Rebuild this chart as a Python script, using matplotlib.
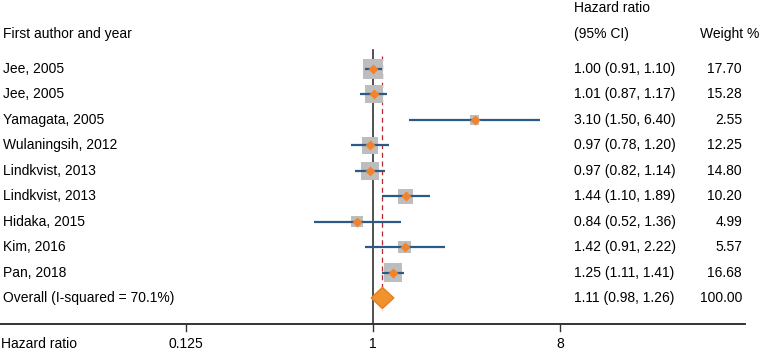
import matplotlib
matplotlib.use("Agg")
import matplotlib.pyplot as plt
from matplotlib.transforms import blended_transform_factory
from matplotlib.patches import Polygon
import numpy as np

plt.rcParams['font.family'] = ['Liberation Sans', 'DejaVu Sans']

# study data
studies = ["Jee, 2005", "Jee, 2005", "Yamagata, 2005", "Wulaningsih, 2012",
           "Lindkvist, 2013", "Lindkvist, 2013", "Hidaka, 2015", "Kim, 2016",
           "Pan, 2018"]
hr = [1.00, 1.01, 3.10, 0.97, 0.97, 1.44, 0.84, 1.42, 1.25]
lo = [0.91, 0.87, 1.50, 0.78, 0.82, 1.10, 0.52, 0.91, 1.11]
hi = [1.10, 1.17, 6.40, 1.20, 1.14, 1.89, 1.36, 2.22, 1.41]
weight = [17.70, 15.28, 2.55, 12.25, 14.80, 10.20, 4.99, 5.57, 16.68]

overall_label = "Overall (I-squared = 70.1%)"
overall_hr, overall_lo, overall_hi, overall_w = 1.11, 0.98, 1.26, 100.00

xticks = [0.125, 1, 8]
xticklabels = ["0.125", "1", "8"]

W, H = 761, 351
fig = plt.figure(figsize=(W / 100, H / 100), dpi=100)
ax = fig.add_axes([0, 0, 1, 1])
ax.set_xscale('log', base=2)
# 1 at x=373px, 62.33 px per doubling
ppd = 62.33
ax.set_xlim(2 ** (-373 / ppd), 2 ** ((W - 373) / ppd))
# row 0 at y=69px, 25.44 px per row
rs = 25.44
ax.set_ylim((H - 69) / rs, -69 / rs)
ax.axis('off')

def ry(px):
    return (px - 69) / rs

def fx(px):
    return px / W

line_col = "#2b5a87"
pt_col = "#f3822a"
sq_col = "#bdbdbd"

rows = np.arange(len(studies))

# grey weight squares (side in px grows with sqrt of weight)
sides = [(3.3 + 3.75 * np.sqrt(w)) * 0.72 for w in weight]
ax.scatter(hr, rows, s=[sd ** 2 for sd in sides], marker='s', color=sq_col,
           zorder=2, linewidths=0)
# CI lines
ax.hlines(rows, lo, hi, color=line_col, lw=1.6, zorder=3)
# point estimates
ax.scatter(hr, rows, s=26, marker='D', color=pt_col, zorder=4, linewidths=0)

# null line
ax.plot([1, 1], [ry(50), ry(324)], color="#333333", lw=1.2, zorder=1)
# overall dashed line
ax.plot([overall_hr, overall_hr], [ry(56), ry(310)], color="#b8262e", lw=0.9,
        ls=(0, (4, 3)), zorder=1)

# overall diamond
orow = len(studies)
dh = 10.5 / rs
diamond = Polygon([[overall_lo, orow], [overall_hr, orow - dh],
                   [overall_hi, orow], [overall_hr, orow + dh]],
                  closed=True, facecolor="#f0922e", edgecolor="#e2801f",
                  lw=1, zorder=5)
ax.add_patch(diamond)

# x axis
ax.plot([2 ** (-373 / ppd), 2 ** ((745 - 373) / ppd)], [ry(324), ry(324)],
        color="#333333", lw=1.4, clip_on=False)
for t in xticks:
    ax.plot([t, t], [ry(324), ry(331)], color="#333333", lw=1.0)
for t, lab in zip(xticks, xticklabels):
    ax.text(t, ry(344), lab, ha='center', va='center', fontsize=10)

bt = blended_transform_factory(ax.transAxes, ax.transData)
ax.text(fx(1), ry(344), "Hazard ratio", transform=bt, ha='left',
        va='center', fontsize=10)

# headers
ax.text(fx(3), ry(34), "First author and year", transform=bt, ha='left',
        va='center', fontsize=10)
ax.text(fx(574), ry(8), "Hazard ratio", transform=bt, ha='left',
        va='center', fontsize=10)
ax.text(fx(574), ry(34), "(95% CI)", transform=bt, ha='left',
        va='center', fontsize=10)
ax.text(fx(700), ry(34), "Weight %", transform=bt, ha='left',
        va='center', fontsize=10)

labels = studies + [overall_label]
hrs = hr + [overall_hr]
los = lo + [overall_lo]
his = hi + [overall_hi]
ws = weight + [overall_w]
for i in range(len(labels)):
    ax.text(fx(3), i, labels[i], transform=bt, ha='left', va='center',
            fontsize=10)
    ax.text(fx(574), i, f"{hrs[i]:.2f} ({los[i]:.2f}, {his[i]:.2f})",
            transform=bt, ha='left', va='center', fontsize=10)
    ax.text(fx(742), i, f"{ws[i]:.2f}", transform=bt, ha='right',
            va='center', fontsize=10)

fig.savefig("out.png", dpi=100)
